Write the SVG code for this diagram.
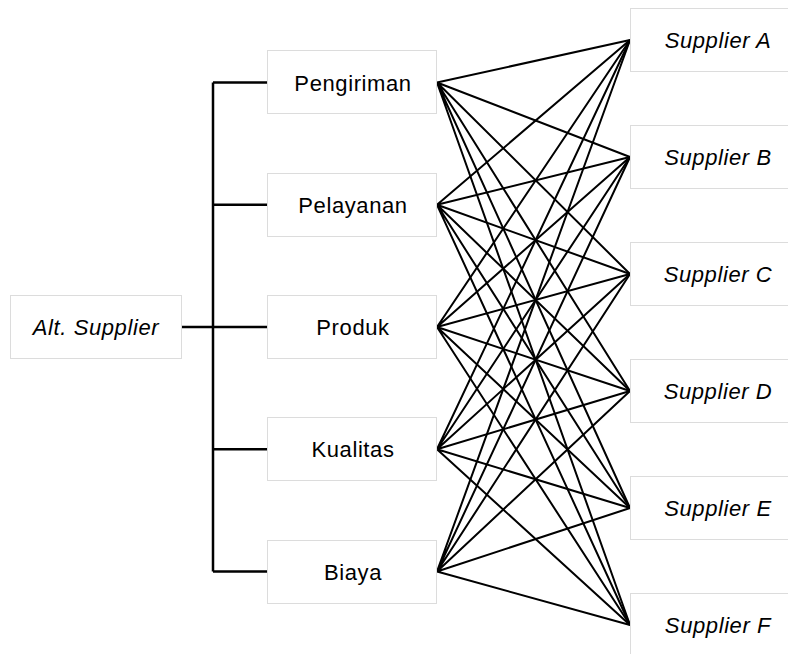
<svg xmlns="http://www.w3.org/2000/svg" width="788" height="654" viewBox="0 0 788 654">
<style>
.box{fill:#fff;stroke:#dcdcdc;stroke-width:1}
.t{font-family:"Liberation Sans",Arial,sans-serif;font-size:22px;fill:#000;text-anchor:middle;letter-spacing:0.6px}
.i{font-style:italic}
.br{stroke:#000;stroke-width:2.5;fill:none}
.ln{stroke:#000;stroke-width:2;fill:none}
</style>
<rect width="788" height="654" fill="#fff"/>
<g id="connectors">
<path class="br" d="M181,327H213M213,82.5V571.5M213,82.5H267M213,204.8H267M213,327H267M213,449.3H267M213,571.5H267"/>
<g class="ln">
<path d="M437,82.5L630,40M437,82.5L630,157M437,82.5L630,274M437,82.5L630,391M437,82.5L630,508M437,82.5L630,625"/>
<path d="M437,204.8L630,40M437,204.8L630,157M437,204.8L630,274M437,204.8L630,391M437,204.8L630,508M437,204.8L630,625"/>
<path d="M437,327L630,40M437,327L630,157M437,327L630,274M437,327L630,391M437,327L630,508M437,327L630,625"/>
<path d="M437,449.3L630,40M437,449.3L630,157M437,449.3L630,274M437,449.3L630,391M437,449.3L630,508M437,449.3L630,625"/>
<path d="M437,571.5L630,40M437,571.5L630,157M437,571.5L630,274M437,571.5L630,391M437,571.5L630,508M437,571.5L630,625"/>
</g>
</g>
<g id="alt"><rect class="box" x="10.5" y="295.5" width="171" height="63"/><text class="t i" x="96" y="335">Alt. Supplier</text></g>
<g id="pengiriman"><rect class="box" x="267.5" y="50.5" width="169" height="63"/><text class="t" x="353" y="90.5">Pengiriman</text></g>
<g id="pelayanan"><rect class="box" x="267.5" y="173.5" width="169" height="63"/><text class="t" x="353" y="212.8">Pelayanan</text></g>
<g id="produk"><rect class="box" x="267.5" y="295.5" width="169" height="63"/><text class="t" x="353" y="335">Produk</text></g>
<g id="kualitas"><rect class="box" x="267.5" y="417.5" width="169" height="63"/><text class="t" x="353" y="457.3">Kualitas</text></g>
<g id="biaya"><rect class="box" x="267.5" y="540.5" width="169" height="63"/><text class="t" x="353" y="579.5">Biaya</text></g>
<g id="supplierA"><rect class="box" x="630.5" y="8.5" width="171" height="63"/><text class="t i" x="718" y="48">Supplier A</text></g>
<g id="supplierB"><rect class="box" x="630.5" y="125.5" width="171" height="63"/><text class="t i" x="718" y="165">Supplier B</text></g>
<g id="supplierC"><rect class="box" x="630.5" y="242.5" width="171" height="63"/><text class="t i" x="718" y="282">Supplier C</text></g>
<g id="supplierD"><rect class="box" x="630.5" y="359.5" width="171" height="63"/><text class="t i" x="718" y="399">Supplier D</text></g>
<g id="supplierE"><rect class="box" x="630.5" y="476.5" width="171" height="63"/><text class="t i" x="718" y="516">Supplier E</text></g>
<g id="supplierF"><rect class="box" x="630.5" y="593.5" width="171" height="63"/><text class="t i" x="718" y="633">Supplier F</text></g>
</svg>
